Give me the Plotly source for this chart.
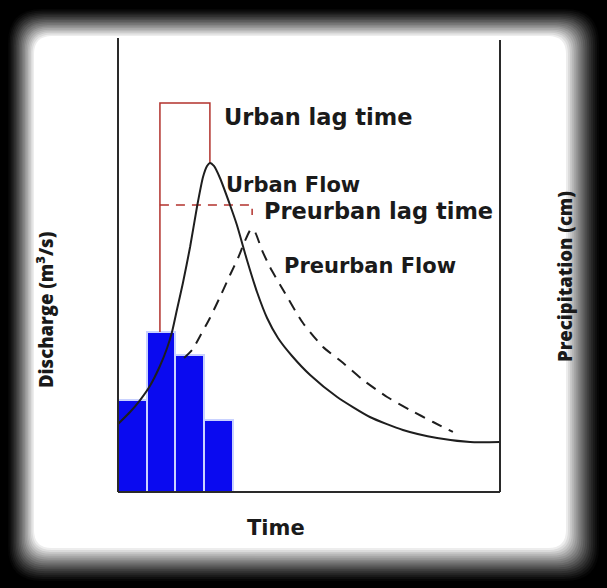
import plotly.graph_objects as go

# ---- data (time units, discharge / precipitation in % of axis) ----
rain_time = [0.5, 1.5, 2.5, 3.5]
rain_depth = [20.3, 35.2, 30.2, 15.9]

urban_t = [0.00, 0.42, 0.77, 1.11, 1.46, 1.71, 1.88, 2.05, 2.26, 2.51, 2.75, 2.96, 3.10, 3.20,
           3.34, 3.55, 3.90, 4.14, 4.49, 4.84, 5.19, 5.57, 6.06, 6.69, 7.63, 8.77, 9.92, 11.11, 12.26, 13.30]
urban_q = [14.98, 17.62, 20.26, 23.35, 27.75, 31.72, 35.24, 40.09, 46.04, 53.96, 62.78, 69.38, 71.81, 72.47,
           71.81, 69.16, 63.22, 58.81, 51.10, 44.05, 38.33, 33.92, 29.96, 25.77, 20.93, 16.52, 13.66, 11.89, 11.01, 11.01]

pre_t = [2.30, 2.58, 2.86, 3.20, 3.55, 3.90, 4.18, 4.39, 4.53, 4.63, 4.77, 5.01, 5.29, 5.75, 6.44,
         7.14, 7.84, 8.53, 9.37, 10.17, 10.97, 11.66]
pre_q = [29.5, 31.28, 34.36, 38.33, 42.95, 47.80, 51.54, 54.85, 56.83, 57.93, 57.27, 53.30, 49.56, 44.49, 37.22,
         31.94, 28.41, 24.67, 20.93, 18.06, 15.42, 13.22]

urban_lag_t = [1.46, 1.46, 3.20, 3.20]
urban_lag_q = [35.24, 85.68, 85.68, 72.47]
pre_lag_t = [1.46, 4.67, 4.67]
pre_lag_q = [63.22, 63.22, 61.0]

labels = ["Urban lag time", "Urban Flow", "Preurban lag time", "Preurban Flow"]
label_t = [3.62, 3.70, 5.00, 5.71]
label_q = [82.6, 67.7, 61.9, 49.8]
label_size = [22.5, 21, 22.5, 21]

# ---- layout geometry (pixels) ----
W, H = 607, 588
L, R, T, B = 118, 500, 38, 492


def px(x):
    return (x - L) / (R - L)


def py(y):
    return (B - y) / (B - T)


fig = go.Figure()

fig.add_trace(go.Bar(x=rain_time, y=rain_depth, width=1.0,
                     marker=dict(color="#0a0af0", line=dict(color="#c9d2ff", width=2)),
                     showlegend=False, hoverinfo="skip"))

red = "#b2322d"
fig.add_trace(go.Scatter(x=urban_lag_t, y=urban_lag_q, mode="lines",
                         line=dict(color=red, width=1.5), showlegend=False))
fig.add_trace(go.Scatter(x=pre_lag_t, y=pre_lag_q, mode="lines",
                         line=dict(color=red, width=1.5, dash="9px,7px"), showlegend=False))

fig.add_trace(go.Scatter(x=urban_t, y=urban_q, mode="lines",
                         line=dict(color="#1e1e1e", width=2, shape="spline", smoothing=0.6),
                         showlegend=False))
fig.add_trace(go.Scatter(x=pre_t, y=pre_q, mode="lines",
                         line=dict(color="#1e1e1e", width=2, dash="11px,8px", shape="spline", smoothing=0.6),
                         showlegend=False))

# soft-edged white card on black
shapes = []
N = 18
o = (8, 9, 599, 581)
i_ = (34, 36, 566, 548)
for k in range(N):
    t = k / (N - 1)
    v = int(round(255 * ((k + 1) / N) ** 1.3)) if k < N - 1 else 255
    x0 = o[0] + (i_[0] - o[0]) * t
    y0 = o[1] + (i_[1] - o[1]) * t
    x1 = o[2] + (i_[2] - o[2]) * t
    y1 = o[3] + (i_[3] - o[3]) * t
    r = 34 - 16 * t
    X0, X1 = px(x0), px(x1)
    Y0, Y1 = py(y0), py(y1)
    rx = r / (R - L)
    ry = r / (B - T)
    path = (f"M {X0+rx},{Y0} L {X1-rx},{Y0} Q {X1},{Y0} {X1},{Y0-ry} "
            f"L {X1},{Y1+ry} Q {X1},{Y1} {X1-rx},{Y1} L {X0+rx},{Y1} "
            f"Q {X0},{Y1} {X0},{Y1+ry} L {X0},{Y0-ry} Q {X0},{Y0} {X0+rx},{Y0} Z")
    shapes.append(dict(type="path", path=path, xref="paper", yref="paper",
                       fillcolor=f"rgb({v},{v},{v})", line=dict(width=0), layer="below"))

axis_col = "#2a2a2a"
shapes.append(dict(type="line", xref="paper", yref="paper", x0=0, x1=0, y0=0, y1=1,
                   line=dict(color=axis_col, width=2)))
shapes.append(dict(type="line", xref="paper", yref="paper", x0=1, x1=1, y0=0, y1=py(40),
                   line=dict(color=axis_col, width=2)))
shapes.append(dict(type="line", xref="paper", yref="paper", x0=0, x1=1, y0=0, y1=0,
                   line=dict(color=axis_col, width=2)))

annotations = []
for txt, tx, ty, fs in zip(labels, label_t, label_q, label_size):
    annotations.append(dict(x=tx, y=ty, xref="x", yref="y", text=txt, showarrow=False,
                            xanchor="left", yanchor="middle",
                            font=dict(family="DejaVu Sans", size=fs, color="#1a1a1a", weight="bold")))

annotations.append(dict(x=px(276), y=py(528), xref="paper", yref="paper", text="Time",
                        showarrow=False, xanchor="center", yanchor="middle",
                        font=dict(family="DejaVu Sans", size=21, color="#1a1a1a", weight="bold")))
annotations.append(dict(x=px(44), y=py(310), xref="paper", yref="paper",
                        text="Discharge (m<sup>3</sup>/s)", textangle=-90,
                        showarrow=False, xanchor="center", yanchor="middle",
                        font=dict(family="Open Sans", size=18.5, color="#1a1a1a", weight=800)))
annotations.append(dict(x=px(564), y=py(277), xref="paper", yref="paper",
                        text="Precipitation (cm)", textangle=-90,
                        showarrow=False, xanchor="center", yanchor="middle",
                        font=dict(family="Open Sans", size=18.5, color="#1a1a1a", weight=800)))

fig.update_layout(
    width=W, height=H,
    margin=dict(l=L, r=W - R, t=T, b=H - B),
    paper_bgcolor="black", plot_bgcolor="rgba(0,0,0,0)",
    shapes=shapes, annotations=annotations,
    bargap=0, showlegend=False,
    xaxis=dict(range=[0, 13.3], showgrid=False, zeroline=False, showticklabels=False,
               ticks="", showline=False, fixedrange=True),
    yaxis=dict(range=[0, 100], showgrid=False, zeroline=False, showticklabels=False,
               ticks="", showline=False, fixedrange=True),
)

fig.write_html("out.html", config={"displayModeBar": False},
               post_script="document.body.style.margin='0';document.body.style.overflow='hidden';")
